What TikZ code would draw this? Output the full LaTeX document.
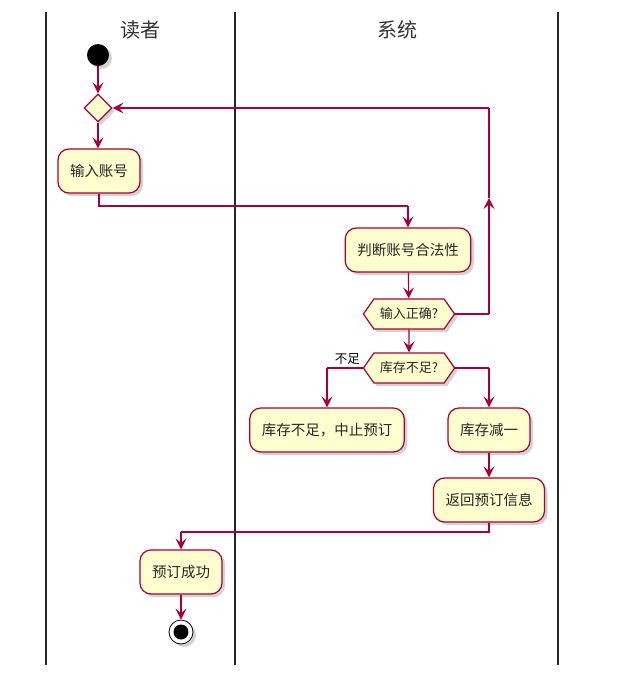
\documentclass[tikz,border=0pt]{standalone}
\usepackage{fontspec}
\newfontfamily\cjk{Noto Sans CJK SC}
\usetikzlibrary{arrows.meta,shapes.geometric,shapes.symbols,shadows,calc}
\definecolor{umlred}{HTML}{A80036}
\definecolor{umlfill}{HTML}{FEFECE}
\tikzset{
  x=1pt, y=-1pt,
  shade/.style={drop shadow={shadow xshift=3pt,shadow yshift=-3pt,opacity=0.35,fill=gray}},
  action/.style={draw=umlred, line width=1.2pt, fill=umlfill, rounded corners=11pt,
    minimum height=44pt, inner xsep=12pt, font=\cjk\fontsize{14.5}{17}\selectfont, text=black!85, shade},
  choice/.style={draw=umlred, line width=1.2pt, fill=umlfill, signal, signal to=west and east,
    signal pointer angle=110, minimum height=30pt, inner xsep=6pt, inner ysep=2pt,
    font=\cjk\fontsize{13}{15}\selectfont, text=black!85, shade},
  merge/.style={draw=umlred, line width=1.2pt, fill=umlfill, diamond, minimum width=28pt,
    minimum height=28pt, inner sep=0pt, shade},
  flow/.style={draw=umlred, line width=1.1pt, -{Stealth[length=11pt,width=11pt,inset=4.5pt]}},
  plain/.style={draw=umlred, line width=1.1pt},
  lane/.style={draw=black!85, line width=2pt},
  title/.style={font=\cjk\fontsize{20}{24}\selectfont, text=black!80},
}
\begin{document}
\begin{tikzpicture}
\useasboundingbox (0,0) rectangle (618,697);
% swimlane borders
\draw[lane] (46,12) -- (46,665);
\draw[lane] (235,12) -- (235,665);
\draw[lane] (558,12) -- (558,665);
\node[title] (t1) at (140,30) {读者};
\node[title] (t2) at (397,30) {系统};

% nodes
\node[circle, fill=black, minimum size=22pt, inner sep=0pt, shade] (start) at (98,55) {};
\node[merge] (m) at (98,108) {};
\node[action] (input) at (99,171) {输入账号};
\node[action] (judge) at (408,250) {判断账号合法性};
\node[choice] (ok) at (409,314) {输入正确?};
\node[choice] (stock) at (409,368) {库存不足?};
\node[action] (abort) at (327,430) {库存不足，中止预订};
\node[action] (dec) at (489,430) {库存减一};
\node[action] (ret) at (489,500) {返回预订信息};
\node[action] (done) at (181,572) {预订成功};
\node[circle, draw=black, line width=0.8pt, fill=white, minimum size=24pt, inner sep=0pt, shade] (stop) at (181,632) {};
\node[circle, fill=black, minimum size=15pt, inner sep=0pt] (stopdot) at (stop) {};

% routing points
\coordinate (c1) at (99,206);
\coordinate (c2) at (408,206);
\coordinate (l1) at (489,314);
\coordinate (l2) at (489,198);
\coordinate (l3) at (489,108);
\coordinate (s1) at (327,368);
\coordinate (s2) at (489,368);
\coordinate (r1) at (489,532);
\coordinate (r2) at (181,532);

% connectors
\draw[flow] (start) -- (m);
\draw[flow] (m) -- (m |- input.north);
\draw[plain] (input) -- (c1) -- (c2);
\draw[flow] (c2) -- (judge);
\draw[flow] (judge) -- (ok);
\draw[plain] (ok.east) -- (l1);
\draw[flow] (l1) -- (l2);
\draw[plain] (l2) -- (l3);
\draw[flow] (l3) -- (m.east);
\draw[flow] (ok) -- (stock);
\draw[plain] (stock.west) -- (s1);
\draw[flow] (s1) -- (abort);
\node[font=\cjk\fontsize{12.5}{14}\selectfont, anchor=south east, inner sep=1pt] (lack) at (361,366) {不足};
\draw[plain] (stock.east) -- (s2);
\draw[flow] (s2) -- (dec);
\draw[flow] (dec) -- (ret);
\draw[plain] (ret) -- (r1) -- (r2);
\draw[flow] (r2) -- (done);
\draw[flow] (done) -- (stop);
\end{tikzpicture}
\end{document}
